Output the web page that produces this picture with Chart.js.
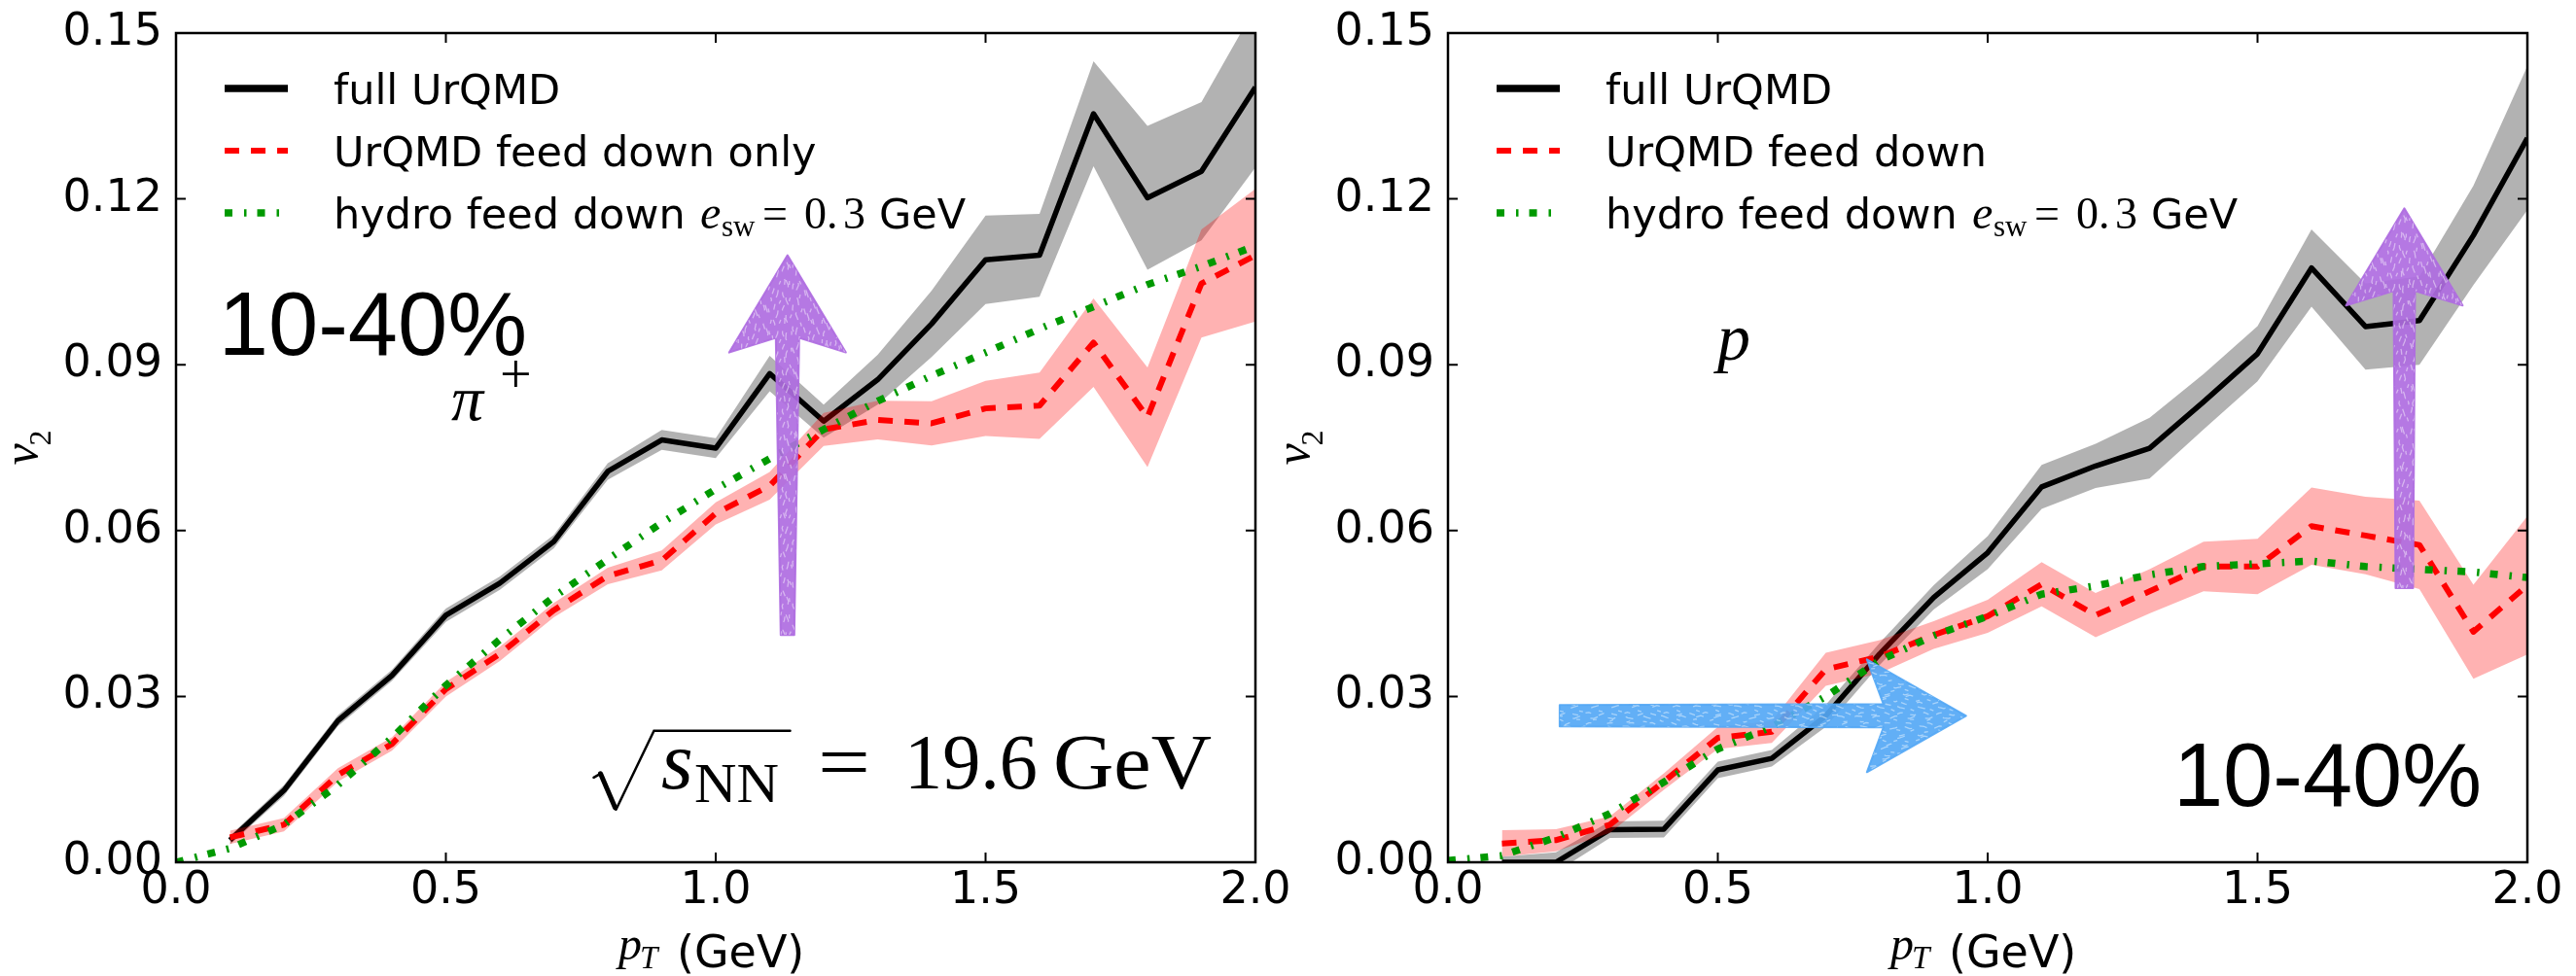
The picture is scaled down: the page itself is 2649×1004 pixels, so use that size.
<!DOCTYPE html>
<html>
<head>
<meta charset="utf-8">
<title>v2 vs pT, 10-40%</title>
<script src="https://cdn.jsdelivr.net/npm/chart.js@4.4.1/dist/chart.umd.min.js"></script>
<style>
  html, body { margin: 0; padding: 0; background: #fff; }
  body { width: 2649px; height: 1004px; position: relative; overflow: hidden; }
  canvas { position: absolute; top: 0; }
  #pion-chart { left: 0; }
  #proton-chart { left: 1320px; }
</style>
</head>
<body>
<canvas id="proton-chart" width="1329" height="1004"></canvas>
<canvas id="pion-chart" width="1380" height="1004"></canvas>
<script>
// pT bins of the UrQMD curves and of the hydro curve (GeV)
const ptBins = [0.1, 0.2, 0.3, 0.4, 0.5, 0.6, 0.7, 0.8, 0.9, 1.0,
  1.1, 1.2, 1.3, 1.4, 1.5, 1.6, 1.7, 1.8, 1.9, 2.0];
const hydroPt = [0.0, 0.1, 0.2, 0.3, 0.4, 0.5, 0.6, 0.7, 0.8, 0.9, 1.0,
  1.1, 1.2, 1.3, 1.4, 1.5, 1.6, 1.7, 1.8, 1.9, 2.0];

const xTicks = [0.0, 0.5, 1.0, 1.5, 2.0];
const yTicks = [0.00, 0.03, 0.06, 0.09, 0.12, 0.15];

// pi+
const pionFull = [0.0040, 0.0130, 0.0256, 0.0338, 0.0447, 0.0505, 0.0580, 0.0707, 0.0764, 0.0749,
  0.0884, 0.0798, 0.0873, 0.0974, 0.1090, 0.1098, 0.1354, 0.1202, 0.1250, 0.1402];
const pionFullErr = [0.0008, 0.0010, 0.0010, 0.0010, 0.0012, 0.0012, 0.0012, 0.0015, 0.0018, 0.0018,
  0.0032, 0.0030, 0.0045, 0.0060, 0.0080, 0.0075, 0.0095, 0.0130, 0.0125, 0.0145];
const pionFeed = [0.0045, 0.0068, 0.0158, 0.0214, 0.0313, 0.0377, 0.0456, 0.0518, 0.0546, 0.0631,
  0.0681, 0.0783, 0.0800, 0.0794, 0.0821, 0.0826, 0.0940, 0.0805, 0.1047, 0.1098];
const pionFeedErr = [0.0012, 0.0012, 0.0012, 0.0012, 0.0013, 0.0013, 0.0013, 0.0015, 0.0018, 0.0020,
  0.0025, 0.0030, 0.0035, 0.0040, 0.0050, 0.0060, 0.0080, 0.0090, 0.0098, 0.0120];
const pionHydro = [0.0000, 0.0025, 0.0068, 0.0140, 0.0225, 0.0320, 0.0403, 0.0480, 0.0548, 0.0614, 0.0675,
  0.0730, 0.0783, 0.0834, 0.0880, 0.0922, 0.0965, 0.1005, 0.1045, 0.1078, 0.1115];

// protons
const protonFull = [0.0000, 0.0000, 0.0059, 0.0060, 0.0167, 0.0188, 0.0265, 0.0377, 0.0479, 0.0560,
  0.0679, 0.0717, 0.0749, 0.0833, 0.0920, 0.1075, 0.0969, 0.0980, 0.1134, 0.1310];
const protonFullErr = [0.0010, 0.0018, 0.0015, 0.0015, 0.0015, 0.0015, 0.0020, 0.0020, 0.0022, 0.0030,
  0.0040, 0.0040, 0.0055, 0.0050, 0.0050, 0.0070, 0.0078, 0.0080, 0.0090, 0.0130];
const protonFeed = [0.0034, 0.0040, 0.0068, 0.0146, 0.0225, 0.0236, 0.0349, 0.0372, 0.0411, 0.0445,
  0.0503, 0.0447, 0.0490, 0.0535, 0.0535, 0.0608, 0.0591, 0.0574, 0.0417, 0.0501];
const protonFeedErr = [0.0024, 0.0020, 0.0015, 0.0015, 0.0020, 0.0020, 0.0030, 0.0030, 0.0025, 0.0030,
  0.0040, 0.0040, 0.0040, 0.0045, 0.0050, 0.0070, 0.0070, 0.0080, 0.0085, 0.0125];
const protonHydro = [0.0003, 0.0012, 0.0045, 0.0088, 0.0145, 0.0205, 0.0245, 0.0300, 0.0365, 0.0410, 0.0445,
  0.0485, 0.0500, 0.0520, 0.0535, 0.0540, 0.0545, 0.0535, 0.0530, 0.0525, 0.0515];

const pionLegend = ["full UrQMD", "UrQMD feed down only", "hydro feed down"];
const protonLegend = ["full UrQMD", "UrQMD feed down", "hydro feed down"];

const SANS = '"DejaVu Sans"';
const SERIF = '"Liberation Serif"';
const PURPLE = "rgb(175,108,225)";
const BLUE = "rgb(85,168,245)";

const lineStyles = [
  { color: "#000000", width: 5.5, dash: [] },
  { color: "#ff0000", width: 6, dash: [15, 12] },
  { color: "#009900", width: 7.5, dash: [8, 12, 2.5, 11] }
];

function points(xs, ys) {
  return xs.map((x, i) => ({ x: x, y: ys[i] }));
}

function band(ys, err, sign) {
  return ptBins.map((x, i) => ({ x: x, y: ys[i] + sign * err[i] }));
}

function bandSet(data, color, order, fill) {
  return {
    data: data, fill: fill, backgroundColor: color,
    borderColor: "rgba(0,0,0,0)", borderWidth: 0,
    pointRadius: 0, tension: 0, clip: 0, order: order
  };
}

function lineSet(data, style, order) {
  return {
    data: data, fill: false, borderColor: style.color, borderWidth: style.width,
    borderDash: style.dash, borderJoinStyle: "round",
    pointRadius: 0, tension: 0, clip: 0, order: order
  };
}

// frame with inward ticks on all four sides
const axesFrame = {
  id: "axesFrame",
  afterDatasetsDraw(chart) {
    const { ctx, chartArea: a, scales: { x, y } } = chart;
    ctx.save();
    ctx.strokeStyle = "#000";
    ctx.lineWidth = 2.5;
    ctx.strokeRect(a.left, a.top, a.right - a.left, a.bottom - a.top);
    ctx.lineWidth = 2;
    ctx.beginPath();
    xTicks.forEach(v => {
      const px = x.getPixelForValue(v);
      ctx.moveTo(px, a.bottom); ctx.lineTo(px, a.bottom - 10);
      ctx.moveTo(px, a.top); ctx.lineTo(px, a.top + 10);
    });
    yTicks.forEach(v => {
      const py = y.getPixelForValue(v);
      ctx.moveTo(a.left, py); ctx.lineTo(a.left + 10, py);
      ctx.moveTo(a.right, py); ctx.lineTo(a.right - 10, py);
    });
    ctx.stroke();
    ctx.restore();
  }
};

function text(ctx, s, x, y, font) {
  ctx.font = font;
  ctx.fillText(s, x, y);
}

// draws s so that it spans the given width
function textWide(ctx, s, x, y, font, width) {
  ctx.font = font;
  const k = width / ctx.measureText(s).width;
  ctx.save();
  ctx.translate(x, y);
  ctx.scale(k, 1);
  ctx.fillText(s, 0, 0);
  ctx.restore();
}

function drawLegend(ctx, a, labels) {
  const rows = [57, 121, 185];
  ctx.save();
  labels.forEach((label, i) => {
    const st = lineStyles[i];
    const ry = a.top + rows[i];
    ctx.strokeStyle = st.color;
    ctx.lineWidth = i === 0 ? 7.5 : st.width;
    ctx.setLineDash(st.dash);
    ctx.beginPath();
    ctx.moveTo(a.left + 50, ry);
    ctx.lineTo(a.left + 115, ry);
    ctx.stroke();
    ctx.setLineDash([]);
    ctx.fillStyle = "#000";
    ctx.textBaseline = "alphabetic";
    ctx.textAlign = "left";
    const x0 = a.left + 162, base = ry + 16;
    text(ctx, label, x0, base, "43px " + SANS);
    if (i === 2) {
      text(ctx, "e", x0 + 377, base, "italic 48px " + SERIF);
      text(ctx, "sw", x0 + 399, base + 8, "31px " + SERIF);
      text(ctx, "=", x0 + 441, base, "46px " + SERIF);
      text(ctx, "0.", x0 + 484, base, "46px " + SERIF);
      text(ctx, "3", x0 + 524, base, "46px " + SERIF);
      text(ctx, "GeV", x0 + 561, base, "43px " + SANS);
    }
  });
  ctx.restore();
}

function drawAxisTitles(ctx, a) {
  ctx.save();
  ctx.fillStyle = "#000";
  ctx.textAlign = "left";
  ctx.textBaseline = "alphabetic";
  const cx = (a.left + a.right) / 2;
  text(ctx, "p", cx - 100, 987, "italic 48px " + SERIF);
  text(ctx, "T", cx - 78, 996, "italic 33px " + SERIF);
  text(ctx, "(GeV)", cx - 40, 995, "46px " + SANS);
  const cy = (a.top + a.bottom) / 2;
  ctx.translate(a.left - 143, cy);
  ctx.rotate(-Math.PI / 2);
  text(ctx, "v", -18, 0, "italic 50px " + SERIF);
  text(ctx, "2", 2, 14, "32px " + SERIF);
  ctx.restore();
}

// hand-drawn looking arrow: solid body with light streaks along it
function drawArrow(ctx, x0, y0, x1, y1, o) {
  const len = Math.hypot(x1 - x0, y1 - y0);
  const dx = (x1 - x0) / len, dy = (y1 - y0) / len;
  const nx = -dy, ny = dx;
  const bx = x1 - dx * o.head, by = y1 - dy * o.head;
  const kx = x1 - dx * o.notch, ky = y1 - dy * o.notch;
  const pts = [
    [x1, y1],
    [bx + nx * o.spread, by + ny * o.spread],
    [kx + nx * o.w1 / 2, ky + ny * o.w1 / 2],
    [x0 + nx * o.w0 / 2, y0 + ny * o.w0 / 2],
    [x0 - nx * o.w0 / 2, y0 - ny * o.w0 / 2],
    [kx - nx * o.w1 / 2, ky - ny * o.w1 / 2],
    [bx - nx * o.spread, by - ny * o.spread]
  ];
  ctx.save();
  ctx.beginPath();
  pts.forEach((p, i) => (i ? ctx.lineTo(p[0], p[1]) : ctx.moveTo(p[0], p[1])));
  ctx.closePath();
  ctx.globalAlpha = 0.92;
  ctx.fillStyle = o.color;
  ctx.strokeStyle = o.color;
  ctx.lineWidth = 2;
  ctx.lineJoin = "round";
  ctx.fill();
  ctx.stroke();
  ctx.clip();
  ctx.globalAlpha = 1;
  ctx.strokeStyle = "rgba(255,255,255,0.45)";
  ctx.lineWidth = 1.3;
  let n = 0;
  for (let k = -o.spread; k <= o.spread; k += 3.5) {
    ctx.setLineDash([4 + (n % 3) * 2, 8 + (n % 4) * 3]);
    ctx.lineDashOffset = n * 7;
    ctx.beginPath();
    for (let t = 0; t <= len; t += 5) {
      const off = k + 1.6 * Math.sin(t * 0.31 + n * 1.7);
      const px = x0 + dx * t + nx * off, py = y0 + dy * t + ny * off;
      t ? ctx.lineTo(px, py) : ctx.moveTo(px, py);
    }
    ctx.stroke();
    n++;
  }
  ctx.restore();
}

// sqrt(s_NN) = 19.6 GeV, anchored at the left end of the baseline
function drawEnergy(ctx, ax, ay) {
  ctx.save();
  ctx.strokeStyle = "#000";
  ctx.lineCap = "round";
  ctx.lineJoin = "miter";
  ctx.lineWidth = 2.5;
  ctx.beginPath();
  ctx.moveTo(ax + 0.5, ay - 11);
  ctx.lineTo(ax + 7.5, ay - 15);
  ctx.stroke();
  ctx.lineWidth = 5;
  ctx.beginPath();
  ctx.moveTo(ax + 7.5, ay - 15);
  ctx.lineTo(ax + 22.5, ay + 20);
  ctx.stroke();
  ctx.lineWidth = 2.5;
  ctx.beginPath();
  ctx.moveTo(ax + 23.5, ay + 22);
  ctx.lineTo(ax + 62.5, ay - 59);
  ctx.lineTo(ax + 202.5, ay - 59);
  ctx.stroke();
  ctx.fillStyle = "#000";
  ctx.textAlign = "left";
  ctx.textBaseline = "alphabetic";
  text(ctx, "s", ax + 70, ay, "italic 84px " + SERIF);
  textWide(ctx, "NN", ax + 104, ay + 14, "58px " + SERIF, 87);
  textWide(ctx, "=", ax + 231, ay, "80px " + SERIF, 54);
  textWide(ctx, "19.6", ax + 320, ay, "80px " + SERIF, 137);
  textWide(ctx, "GeV", ax + 473, ay, "80px " + SERIF, 163);
  ctx.restore();
}

function makeChart(id, cfg) {
  const datasets = [
    bandSet(band(cfg.full, cfg.fullErr, 1), "rgba(0,0,0,0.3)", 6, "+1"),
    bandSet(band(cfg.full, cfg.fullErr, -1), "rgba(0,0,0,0)", 6, false),
    lineSet(points(ptBins, cfg.full), lineStyles[0], 5),
    bandSet(band(cfg.feed, cfg.feedErr, 1), "rgba(255,0,0,0.3)", 4, "+1"),
    bandSet(band(cfg.feed, cfg.feedErr, -1), "rgba(0,0,0,0)", 4, false),
    lineSet(points(ptBins, cfg.feed), lineStyles[1], 3),
    lineSet(points(hydroPt, cfg.hydro), lineStyles[2], 2)
  ];

  const notes = {
    id: "notes",
    afterDatasetsDraw(chart) {
      const { ctx, chartArea: a, scales: { x, y } } = chart;
      cfg.arrows.forEach(ar => drawArrow(ctx,
        x.getPixelForValue(ar.from[0]), y.getPixelForValue(ar.from[1]),
        x.getPixelForValue(ar.to[0]), y.getPixelForValue(ar.to[1]), ar));
      drawLegend(ctx, a, cfg.legend);
      cfg.draw(ctx, x, y);
    },
    afterDraw(chart) {
      drawAxisTitles(chart.ctx, chart.chartArea);
    }
  };

  return new Chart(document.getElementById(id), {
    type: "line",
    data: { datasets: datasets },
    options: {
      responsive: false,
      animation: false,
      devicePixelRatio: 1,
      layout: { padding: { top: 34, right: cfg.padRight, bottom: 0, left: 0 } },
      plugins: { legend: { display: false }, tooltip: { enabled: false } },
      scales: {
        x: {
          type: "linear", min: 0, max: 2,
          grid: { display: false, drawTicks: false },
          border: { display: false },
          ticks: {
            color: "#000", font: { family: "DejaVu Sans", size: 46 },
            padding: 2, maxRotation: 0, autoSkip: false,
            callback: v => Number(v).toFixed(1)
          },
          afterBuildTicks: s => { s.ticks = xTicks.map(v => ({ value: v })); },
          afterFit: s => { s.height = 117; s.paddingLeft = 0; s.paddingRight = 0; }
        },
        y: {
          type: "linear", min: 0, max: 0.15,
          grid: { display: false, drawTicks: false },
          border: { display: false },
          ticks: {
            color: "#000", font: { family: "DejaVu Sans", size: 46 },
            padding: 14, autoSkip: false,
            callback: v => Number(v).toFixed(2)
          },
          afterBuildTicks: s => { s.ticks = yTicks.map(v => ({ value: v })); },
          afterFit: s => { s.width = cfg.axisWidth; s.paddingTop = 0; s.paddingBottom = 0; }
        }
      }
    },
    plugins: [axesFrame, notes]
  });
}

makeChart("pion-chart", {
  full: pionFull, fullErr: pionFullErr,
  feed: pionFeed, feedErr: pionFeedErr,
  hydro: pionHydro, legend: pionLegend,
  axisWidth: 181, padRight: 89,
  arrows: [
    { from: [1.133, 0.0411], to: [1.133, 0.1098], w0: 14, w1: 24, head: 100, notch: 85, spread: 60, color: PURPLE }
  ],
  draw(ctx, x, y) {
    ctx.save();
    ctx.fillStyle = "#000";
    ctx.textAlign = "left";
    ctx.textBaseline = "alphabetic";
    text(ctx, "10-40%", x.getPixelForValue(0.079), y.getPixelForValue(0.0918), '92px "Liberation Sans"');
    text(ctx, "\u03c0", x.getPixelForValue(0.51), y.getPixelForValue(0.080), "italic 66px " + SERIF);
    text(ctx, "+", x.getPixelForValue(0.60), y.getPixelForValue(0.0849), "58px " + SERIF);
    drawEnergy(ctx, x.getPixelForValue(0.773), y.getPixelForValue(0.0134));
    ctx.restore();
  }
});

makeChart("proton-chart", {
  full: protonFull, fullErr: protonFullErr,
  feed: protonFeed, feedErr: protonFeedErr,
  hydro: protonHydro, legend: protonLegend,
  axisWidth: 169, padRight: 50,
  arrows: [
    { from: [0.207, 0.0265], to: [0.960, 0.0265], w0: 22, w1: 24, head: 102, notch: 85, spread: 58, color: BLUE },
    { from: [1.772, 0.0496], to: [1.772, 0.1183], w0: 18, w1: 22, head: 100, notch: 85, spread: 60, color: PURPLE }
  ],
  draw(ctx, x, y) {
    ctx.save();
    ctx.fillStyle = "#000";
    ctx.textAlign = "left";
    ctx.textBaseline = "alphabetic";
    text(ctx, "p", x.getPixelForValue(0.499), y.getPixelForValue(0.0909), "italic 68px " + SERIF);
    text(ctx, "10-40%", x.getPixelForValue(1.344), y.getPixelForValue(0.0102), '92px "Liberation Sans"');
    ctx.restore();
  }
});
</script>
</body>
</html>
